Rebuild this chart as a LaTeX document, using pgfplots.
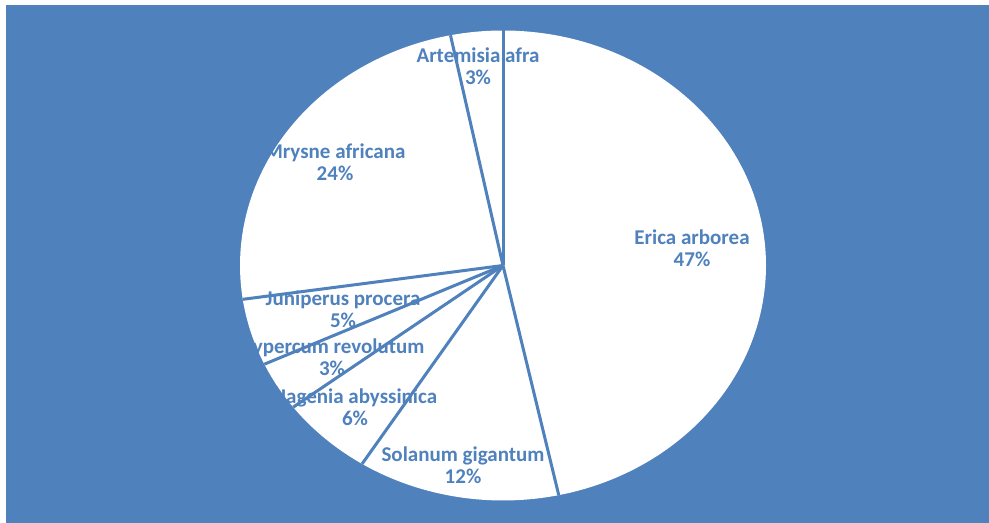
\documentclass[border=0pt]{standalone}
\usepackage{pgfplots}
\usepackage{pgfplotstable}
\pgfplotsset{compat=1.18}
\usepackage{fontspec}
\setmainfont{Carlito}
\definecolor{bgblue}{HTML}{4F81BD}

% slice shares (percent), clockwise from 12 o'clock
\pgfplotstableread[col sep=comma]{
name,pct,lx,ly
Erica arborea,46.6,692,275
Solanum gigantum,12.4,463,58
Hagenia abyssinica,5.7,355,116
Hypercum revolutum,3.4,332,166
Juniperus procera,4.6,343,214
Mrysne africana,24.1,335,361
Artemisia afra,3.2,478,457
}\piedata

\begin{document}
\begin{tikzpicture}
\begin{axis}[
  width=494.5pt, height=261.5pt, scale only axis,
  xmin=0, xmax=989, ymin=0, ymax=523,
  hide axis, clip=true,
]
% background
\fill[bgblue] (axis cs:6,-10) rectangle (axis cs:1000,518);
% pie disc (ellipse)
\addplot[fill=white, draw=none, domain=0:360, samples=241]
  ({503+263*cos(x)},{257.5+235*sin(x)});
% slice boundaries
\pgfmathsetmacro\ang{90}
\edef\cmd{\noexpand\addplot[draw=bgblue, line width=1.5pt, domain=0:1, samples=2]
  ({503+x*263*cos(\ang)},{257.5+x*235*sin(\ang)});}\cmd
\pgfplotsforeachungrouped \i in {0,...,6}{%
  \pgfplotstablegetelem{\i}{pct}\of\piedata
  \pgfmathsetmacro\ang{\ang-3.6*\pgfplotsretval}%
  \edef\cmd{\noexpand\addplot[draw=bgblue, line width=1.5pt, domain=0:1, samples=2]
    ({503+x*263*cos(\ang)},{257.5+x*235*sin(\ang)});}\cmd
}
% labels
\pgfplotsforeachungrouped \i in {0,...,6}{%
  \pgfplotstablegetelem{\i}{name}\of\piedata \let\nm\pgfplotsretval
  \pgfplotstablegetelem{\i}{pct}\of\piedata
  \pgfmathsetmacro\pr{round(\pgfplotsretval)}%
  \pgfmathtruncatemacro\pr{\pr}%
  \pgfplotstablegetelem{\i}{lx}\of\piedata \let\lx\pgfplotsretval
  \pgfplotstablegetelem{\i}{ly}\of\piedata \let\ly\pgfplotsretval
  \edef\cmd{\noexpand\node[align=center, text=bgblue, font=\noexpand\fontsize{10.5}{11}\noexpand\selectfont\noexpand\bfseries, inner sep=0pt]
    at (axis cs:\lx,\ly) {\nm\noexpand\\\pr\noexpand\%};}\cmd
}
\end{axis}
\pgfresetboundingbox
\useasboundingbox (current axis.south west) rectangle (current axis.north east);
\end{tikzpicture}
\end{document}
